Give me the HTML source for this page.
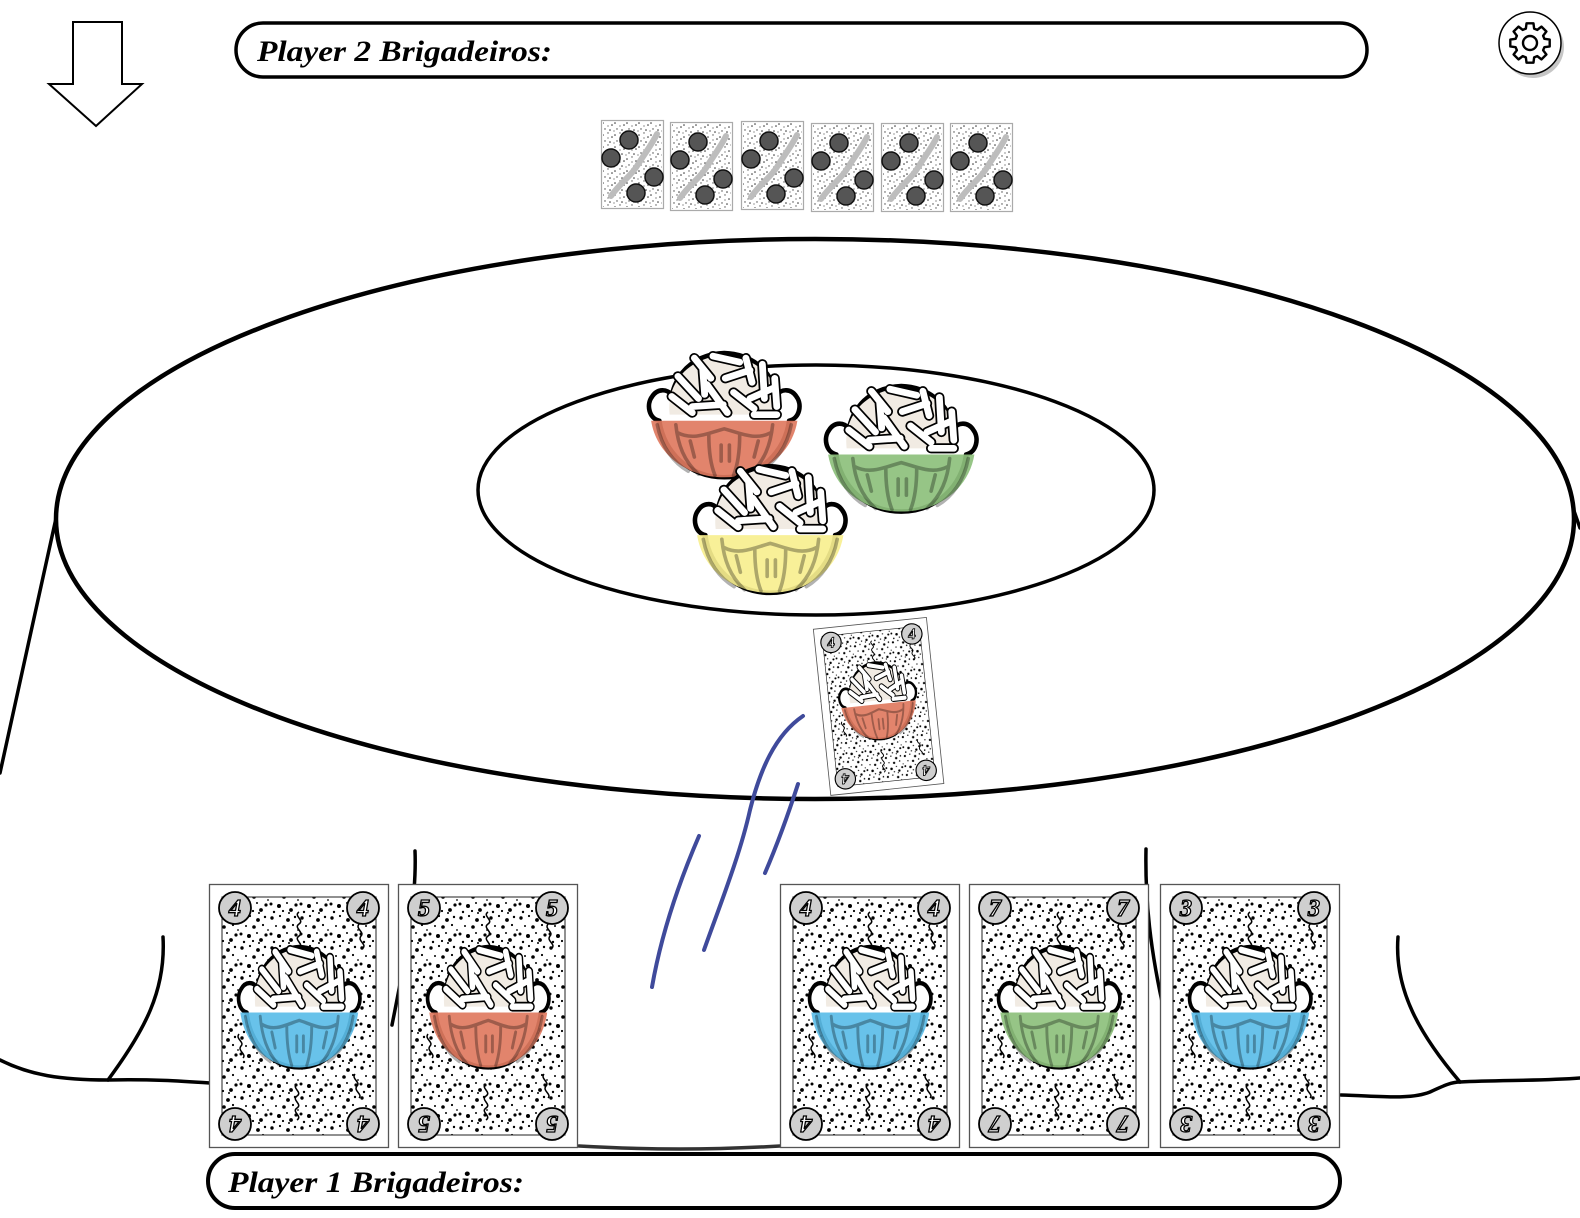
<!DOCTYPE html>
<html><head><meta charset="utf-8">
<style>
html,body{margin:0;padding:0;background:#fff;}
svg{display:block;}
.lbl{font-family:"Liberation Serif","DejaVu Serif",serif;font-style:italic;font-weight:bold;}
.num{font-family:"Liberation Serif","DejaVu Serif",serif;font-style:italic;font-weight:bold;font-size:24px;fill:#fff;stroke:#000;stroke-width:1.3;text-anchor:middle;}
</style></head>
<body>
<svg width="1580" height="1218" viewBox="0 0 1580 1218" xmlns="http://www.w3.org/2000/svg" xmlns:xlink="http://www.w3.org/1999/xlink">
<defs>
  <pattern id="sp" patternUnits="userSpaceOnUse" width="30" height="30">
    <circle cx="3" cy="4" r="1.7" fill="#000"/><circle cx="11" cy="2" r="1.1" fill="#000"/>
    <circle cx="19" cy="6" r="1.9" fill="#000"/><circle cx="26" cy="3" r="1.2" fill="#000"/>
    <circle cx="7" cy="12" r="1.0" fill="#000"/><circle cx="15" cy="13" r="1.8" fill="#000"/>
    <circle cx="24" cy="11" r="1.1" fill="#000"/><circle cx="2" cy="20" r="1.5" fill="#000"/>
    <circle cx="10" cy="22" r="2.0" fill="#000"/><circle cx="18" cy="19" r="1.0" fill="#000"/>
    <circle cx="27" cy="21" r="1.6" fill="#000"/><circle cx="5" cy="28" r="1.2" fill="#000"/>
    <circle cx="14" cy="27" r="1.1" fill="#000"/><circle cx="22" cy="26" r="1.9" fill="#000"/>
    <circle cx="29" cy="16" r="0.9" fill="#000"/><circle cx="20" cy="29" r="1.0" fill="#000"/>
  </pattern>
  <pattern id="spg" patternUnits="userSpaceOnUse" width="12" height="12">
    <circle cx="2" cy="3" r="0.8" fill="#333"/><circle cx="7" cy="1" r="0.7" fill="#555"/>
    <circle cx="11" cy="5" r="0.8" fill="#333"/><circle cx="4" cy="9" r="0.7" fill="#444"/>
    <circle cx="9" cy="10" r="0.8" fill="#333"/><circle cx="1" cy="11" r="0.6" fill="#555"/>
    <circle cx="7" cy="6" r="0.6" fill="#444"/>
  </pattern>

  <g id="bowl">
    <path d="M12,72 C2,70 -1,56 5,48 C10,40 20,40 24,47 C30,20 50,6 75,5 C100,6 120,20 126,47 C130,40 140,40 145,48 C151,56 148,70 138,72 C134,102 110,128 75,128 C40,128 16,102 12,72 Z" fill="#fff" stroke="#000" stroke-width="4.5" stroke-linejoin="round"/>
    <path d="M22,66 C18,34 42,8 75,8 C108,8 132,34 128,66 Z" fill="#f1ebe3"/>
    <path d="M30,28 L50,50 M46,10 L62,30 M64,8 L90,14 M96,10 L102,34 M112,16 L114,50 M124,30 L126,58 M24,48 L44,64 M44,58 L74,56 M58,36 L78,64 M76,30 L100,22 M84,44 L104,60 M100,50 L122,40 M104,66 L126,66 M54,20 L56,46" stroke="#000" stroke-width="10" stroke-linecap="round" fill="none"/>
    <path d="M30,28 L50,50 M46,10 L62,30 M64,8 L90,14 M96,10 L102,34 M112,16 L114,50 M124,30 L126,58 M24,48 L44,64 M44,58 L74,56 M58,36 L78,64 M76,30 L100,22 M84,44 L104,60 M100,50 L122,40 M104,66 L126,66 M54,20 L56,46" stroke="#fff" stroke-width="6.6" stroke-linecap="round" fill="none"/>
    <path d="M4,72 L146,72 C141,104 113,128 75,128 C37,128 9,104 4,72 Z" fill-opacity="0.92"/>
    <path d="M10,76 C14,98 26,114 40,122 M28,76 C30,96 36,112 50,125 M30,84 C45,92 60,84 75,80 C90,84 105,92 120,84 M60,86 C60,104 62,116 66,126 M90,86 C90,104 88,116 84,126 M122,76 C120,96 114,112 100,125 M140,76 C136,98 124,114 110,122 M72,96 L72,112 M80,96 L80,112 M42,92 L46,108 M108,92 L104,108" fill="none" stroke="#000" stroke-opacity="0.3" stroke-width="3.5" stroke-linecap="round"/>
  </g>

  <g id="card">
    <rect x="0.5" y="0.5" width="179" height="263" fill="#fff" stroke="#555" stroke-width="1.3"/>
    <rect x="13" y="13" width="154" height="238" fill="url(#sp)" stroke="#222" stroke-width="1"/>
    <path d="M90,28 c-6,4 6,8 0,12 c-6,4 6,8 0,12 c-6,4 6,8 0,12 M88,200 c-6,4 6,8 0,12 c-6,4 6,8 0,12 c-6,4 6,8 0,12 M30,150 c-4,5 6,8 2,12 c-4,5 6,8 2,12 M150,40 c-4,5 6,8 2,12 c-4,5 6,8 2,12 M146,190 c-4,5 6,8 2,12 c-4,5 6,8 2,12" fill="none" stroke="#000" stroke-width="1.5"/>
    <use xlink:href="#bowl" href="#bowl" transform="translate(28,58) scale(0.83,0.98)"/>
    <circle cx="26" cy="24" r="16" fill="#cfcfcf" stroke="#000" stroke-width="1.8"/>
    <circle cx="154" cy="24" r="16" fill="#cfcfcf" stroke="#000" stroke-width="1.8"/>
    <circle cx="26" cy="240" r="16" fill="#cfcfcf" stroke="#000" stroke-width="1.8"/>
    <circle cx="154" cy="240" r="16" fill="#cfcfcf" stroke="#000" stroke-width="1.8"/>
  </g>

  <g id="mini">
    <rect x="0.5" y="0.5" width="62" height="88" fill="#fff" stroke="#aaa" stroke-width="1.2"/>
    <rect x="2" y="2" width="59" height="85" fill="url(#spg)"/>
    <path d="M10,76 C20,62 30,56 36,46 C42,36 50,26 56,14" stroke="#bdbdbd" stroke-width="6" fill="none" stroke-linecap="round"/>
    <circle cx="28" cy="20" r="9" fill="#555" stroke="#111" stroke-width="1.5"/>
    <circle cx="10" cy="38" r="9" fill="#555" stroke="#111" stroke-width="1.5"/>
    <circle cx="53" cy="57" r="9" fill="#555" stroke="#111" stroke-width="1.5"/>
    <circle cx="35" cy="73" r="9" fill="#555" stroke="#111" stroke-width="1.5"/>
  </g>
</defs>

<!-- down arrow -->
<polygon points="73,22 122,22 122,84 142,84 96,126 49,84 73,84" fill="#fff" stroke="#000" stroke-width="2" stroke-linejoin="miter"/>

<!-- top banner -->
<rect x="236" y="23" width="1131" height="54" rx="27" ry="27" fill="#fff" stroke="#000" stroke-width="3.5"/>
<text class="lbl" x="257" y="61" font-size="30" textLength="295" lengthAdjust="spacingAndGlyphs">Player 2 Brigadeiros:</text>

<!-- gear -->
<circle cx="1533" cy="47" r="31" fill="#c6c6c6"/>
<circle cx="1530" cy="43" r="31" fill="#fff" stroke="#000" stroke-width="1.5"/>
<path transform="translate(1530,43)" d="M14.42,-4.13 L19.70,-3.47 L19.70,3.47 L14.42,4.13 L13.12,7.27 L16.38,11.47 L11.47,16.38 L7.27,13.12 L4.13,14.42 L3.47,19.70 L-3.47,19.70 L-4.13,14.42 L-7.27,13.12 L-11.47,16.38 L-16.38,11.47 L-13.12,7.27 L-14.42,4.13 L-19.70,3.47 L-19.70,-3.47 L-14.42,-4.13 L-13.12,-7.27 L-16.38,-11.47 L-11.47,-16.38 L-7.27,-13.12 L-4.13,-14.42 L-3.47,-19.70 L3.47,-19.70 L4.13,-14.42 L7.27,-13.12 L11.47,-16.38 L16.38,-11.47 L13.12,-7.27 Z" fill="#fff" stroke="#000" stroke-width="2.4" stroke-linejoin="round"/>
<circle cx="1530" cy="43" r="7" fill="#fff" stroke="#000" stroke-width="2.4"/>

<!-- mini cards -->
<use href="#mini" xlink:href="#mini" transform="translate(601,120)"/>
<use href="#mini" xlink:href="#mini" transform="translate(670,122)"/>
<use href="#mini" xlink:href="#mini" transform="translate(741,121)"/>
<use href="#mini" xlink:href="#mini" transform="translate(811,123)"/>
<use href="#mini" xlink:href="#mini" transform="translate(881,123)"/>
<use href="#mini" xlink:href="#mini" transform="translate(950,123)"/>

<!-- table -->
<g fill="none" stroke="#000" stroke-linecap="round">
  <path d="M64,482 C45,570 20,680 0,773" stroke-width="3.5"/>
  <path d="M1566,488 L1580,528" stroke-width="3.5"/>
  <ellipse cx="815" cy="519" rx="759" ry="280" fill="#fff" stroke-width="4.5"/>
  <ellipse cx="816" cy="490" rx="338" ry="125" stroke-width="3.5"/>
  <path d="M0,1060 C30,1075 60,1080 108,1080 C150,1079 180,1081 210,1083" stroke-width="3.5"/>
  <path d="M163,937 C166,990 145,1030 108,1080" stroke-width="3.5"/>
  <path d="M415,851 C417,900 405,960 392,1025" stroke-width="3.5"/>
  <path d="M579,1146 C650,1150 710,1150 780,1146" stroke-width="3.5" stroke="#333"/>
  <path d="M1146,849 C1145,900 1150,950 1165,1015" stroke-width="3.5"/>
  <path d="M1398,937 C1394,990 1420,1035 1460,1082" stroke-width="3.5"/>
  <path d="M1341,1095 C1380,1096 1410,1100 1430,1092 C1445,1085 1452,1082 1460,1082 C1500,1080 1540,1081 1580,1078" stroke-width="3.5"/>
</g>

<!-- center bowls -->
<use href="#bowl" xlink:href="#bowl" fill="#e07a5f" transform="translate(647,348) scale(1.03,1.01)"/>
<use href="#bowl" xlink:href="#bowl" fill="#8dc07c" transform="translate(824,381) scale(1.03,1.02)"/>
<use href="#bowl" xlink:href="#bowl" fill="#f7ef8f" transform="translate(693,461) scale(1.03,1.03)"/>

<!-- middle card -->
<g transform="translate(813,629) rotate(-6) scale(0.635)">
  <use href="#card" xlink:href="#card" fill="#e07a5f"/>
  <text class="num" x="26" y="32">4</text>
  <text class="num" x="154" y="32">4</text>
  <text class="num" x="26" y="248" transform="rotate(180 26 240)">4</text>
  <text class="num" x="154" y="248" transform="rotate(180 154 240)">4</text>
</g>

<!-- blue strokes -->
<g fill="none" stroke="#3f4a9b" stroke-width="4" stroke-linecap="round">
  <path d="M803,716 C775,735 760,770 750,810 C740,855 720,905 704,950"/>
  <path d="M798,784 C788,815 777,845 765,873"/>
  <path d="M699,836 C680,880 662,930 652,987"/>
</g>

<!-- bottom cards -->
<g transform="translate(209,884)">
  <use href="#card" xlink:href="#card" fill="#5bbde8"/>
  <text class="num" x="26" y="32">4</text><text class="num" x="154" y="32">4</text>
  <text class="num" x="26" y="248" transform="rotate(180 26 240)">4</text><text class="num" x="154" y="248" transform="rotate(180 154 240)">4</text>
</g>
<g transform="translate(398,884)">
  <use href="#card" xlink:href="#card" fill="#e07a5f"/>
  <text class="num" x="26" y="32">5</text><text class="num" x="154" y="32">5</text>
  <text class="num" x="26" y="248" transform="rotate(180 26 240)">5</text><text class="num" x="154" y="248" transform="rotate(180 154 240)">5</text>
</g>
<g transform="translate(780,884)">
  <use href="#card" xlink:href="#card" fill="#5bbde8"/>
  <text class="num" x="26" y="32">4</text><text class="num" x="154" y="32">4</text>
  <text class="num" x="26" y="248" transform="rotate(180 26 240)">4</text><text class="num" x="154" y="248" transform="rotate(180 154 240)">4</text>
</g>
<g transform="translate(969,884)">
  <use href="#card" xlink:href="#card" fill="#8dc07c"/>
  <text class="num" x="26" y="32">7</text><text class="num" x="154" y="32">7</text>
  <text class="num" x="26" y="248" transform="rotate(180 26 240)">7</text><text class="num" x="154" y="248" transform="rotate(180 154 240)">7</text>
</g>
<g transform="translate(1160,884)">
  <use href="#card" xlink:href="#card" fill="#5bbde8"/>
  <text class="num" x="26" y="32">3</text><text class="num" x="154" y="32">3</text>
  <text class="num" x="26" y="248" transform="rotate(180 26 240)">3</text><text class="num" x="154" y="248" transform="rotate(180 154 240)">3</text>
</g>

<!-- bottom banner -->
<rect x="208" y="1154" width="1132" height="54" rx="27" ry="27" fill="#fff" stroke="#000" stroke-width="4"/>
<text class="lbl" x="228" y="1192" font-size="30" textLength="296" lengthAdjust="spacingAndGlyphs">Player 1 Brigadeiros:</text>
</svg>
</body></html>
